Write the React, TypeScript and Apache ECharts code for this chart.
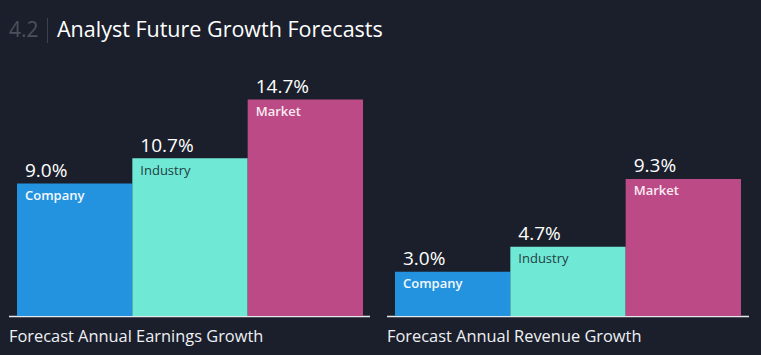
import React, { useEffect, useRef } from "react";
import * as echarts from "echarts";

const categories = ["Company", "Industry", "Market"];
const earningsGrowth = [9.0, 10.7, 14.7];
const revenueGrowth = [3.0, 4.7, 9.3];
const barColors = ["#2393df", "#70e8d6", "#bc4a87"];
const nameColors = ["#f4f8ff", "#23403e", "#fbeaf2"];
const nameWeights = [600, "normal", 600];
const panelTitles = ["Forecast Annual Earnings Growth", "Forecast Annual Revenue Growth"];
const sectionNumber = "4.2";
const chartTitle = "Analyst Future Growth Forecasts";

const FONT = "'Open Sans', 'Noto Sans', sans-serif";
const Y_MAX = 15;

export default function App() {
  const ref = useRef<HTMLDivElement>(null);
  useEffect(() => {
    if (!ref.current) return;
    const chart = echarts.init(ref.current, undefined, { renderer: "svg" });
    const grids = [
      { left: 17, width: 346, top: 95, bottom: 39 },
      { left: 395, width: 346, top: 95, bottom: 39 },
    ];
    const datasets = [earningsGrowth, revenueGrowth];
    const series: any[] = [];
    datasets.forEach((vals, gi) => {
      series.push({
        type: "bar",
        xAxisIndex: gi,
        yAxisIndex: gi,
        barWidth: "100%",
        data: vals.map((v, i) => ({
          value: v,
          itemStyle: { color: barColors[i] },
          label: {
            show: true,
            position: [8, 5],
            align: "left",
            verticalAlign: "top",
            formatter: categories[i],
            color: nameColors[i],
            fontWeight: nameWeights[i],
            fontSize: 13,
            fontFamily: FONT,
          },
        })),
      });
      series.push({
        type: "bar",
        xAxisIndex: gi,
        yAxisIndex: gi,
        barWidth: "100%",
        barGap: "-100%",
        silent: true,
        itemStyle: { color: "transparent" },
        data: vals.map((v) => ({
          value: v,
          label: {
            show: true,
            position: [8, -4],
            align: "left",
            verticalAlign: "bottom",
            formatter: v.toFixed(1) + "%",
            color: "#ffffff",
            fontSize: 19,
            fontFamily: FONT,
          },
        })),
      });
    });
    chart.setOption({
      animation: false,
      backgroundColor: "#1b1f2b",
      grid: grids,
      xAxis: grids.map((_, gi) => ({
        type: "category",
        gridIndex: gi,
        data: categories,
        axisLine: { show: false },
        axisTick: { show: false },
        axisLabel: { show: false },
      })),
      yAxis: grids.map((_, gi) => ({
        type: "value",
        gridIndex: gi,
        min: 0,
        max: Y_MAX,
        show: false,
        splitLine: { show: false },
      })),
      series,
      graphic: [
        {
          type: "text",
          left: 9,
          top: 18,
          style: { text: sectionNumber, fill: "#4b505c", fontSize: 21, fontFamily: FONT },
        },
        {
          type: "line",
          shape: { x1: 47.5, y1: 18, x2: 47.5, y2: 43 },
          style: { stroke: "#3d424d", lineWidth: 1 },
        },
        {
          type: "text",
          left: 57,
          top: 17,
          style: { text: chartTitle, fill: "#ffffff", fontSize: 21.5, fontWeight: 500, fontFamily: FONT },
        },
        {
          type: "line",
          shape: { x1: 9, y1: 316.5, x2: 370, y2: 316.5 },
          style: { stroke: "#e6e8ec", lineWidth: 1.5 },
        },
        {
          type: "line",
          shape: { x1: 387, y1: 316.5, x2: 749, y2: 316.5 },
          style: { stroke: "#e6e8ec", lineWidth: 1.5 },
        },
        {
          type: "text",
          left: 9,
          top: 327,
          style: { text: panelTitles[0], fill: "#eef0f3", fontSize: 16.4, fontFamily: FONT },
        },
        {
          type: "text",
          left: 387,
          top: 327,
          style: { text: panelTitles[1], fill: "#eef0f3", fontSize: 16.4, fontFamily: FONT },
        },
      ],
    });
    return () => chart.dispose();
  }, []);
  return (
    <div
      ref={ref}
      style={{ position: "fixed", left: 0, top: 0, width: 761, height: 355 }}
    />
  );
}
